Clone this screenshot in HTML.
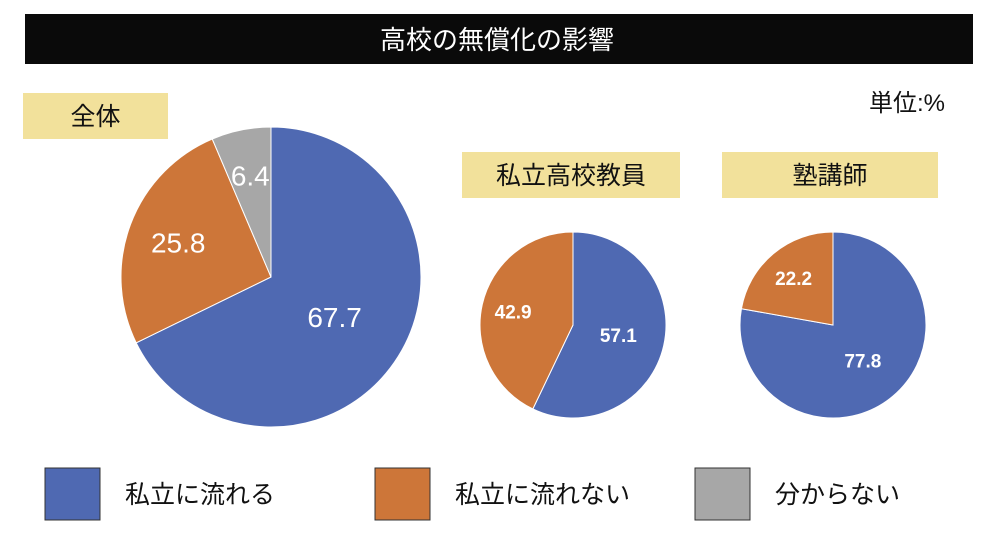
<!DOCTYPE html>
<html><head><meta charset="utf-8">
<style>
body{margin:0;background:#fff;width:999px;height:544px;overflow:hidden;font-family:"Liberation Sans","Noto Sans CJK JP",sans-serif;}
svg{display:block}
</style></head>
<body>
<svg id="c" width="999" height="544" viewBox="0 0 999 544">
  <rect x="25" y="14" width="948" height="50" fill="#0a0a0a"/>
  <text x="497" y="49" text-anchor="middle" fill="#fff" font-size="26" font-family="Liberation Sans, Noto Sans CJK JP, sans-serif">高校の無償化の影響</text>
  <text x="945" y="111" text-anchor="end" fill="#111" font-size="24" font-family="Liberation Sans, Noto Sans CJK JP, sans-serif">単位:%</text>
  <g id="pies"></g>
  <g id="legend"></g>
</svg>
<script>
const groupNames = ["全体", "私立高校教員", "塾講師"];
const seriesNames = ["私立に流れる", "私立に流れない", "分からない"];
const valuesAll = [67.7, 25.8, 6.4];
const valuesTeachers = [57.1, 42.9];
const valuesCram = [77.8, 22.2];
const colors = ["#4f69b2", "#cd7639", "#a7a7a7"];

const NS = "http://www.w3.org/2000/svg";
const pies = document.getElementById("pies");
const legend = document.getElementById("legend");
const FONT = "Liberation Sans, Noto Sans CJK JP, sans-serif";

function mk(tag, attrs, parent){
  const e = document.createElementNS(NS, tag);
  for (const k in attrs) e.setAttribute(k, attrs[k]);
  parent.appendChild(e);
  return e;
}
function pt(cx, cy, r, frac){
  const a = frac * 2 * Math.PI;
  return [cx + r * Math.sin(a), cy - r * Math.cos(a)];
}

const layouts = [
  {cx:271, cy:277, r:150, box:[23,93,145,46], fs:28, bold:false, values:valuesAll},
  {cx:573, cy:325, r:93, box:[462,152,218,46], fs:19, bold:true, values:valuesTeachers},
  {cx:833, cy:325, r:93, box:[722,152,216,46], fs:19, bold:true, values:valuesCram}
];

layouts.forEach((L, gi) => {
  const g = mk("g", {}, pies);
  
  
  const b = mk("rect", {x:L.box[0], y:L.box[1], width:L.box[2], height:L.box[3], fill:"#f2e19b"}, g);
  
  
  const t = mk("text", {x:L.box[0]+L.box[2]/2, y:L.box[1]+L.box[3]/2+9, "text-anchor":"middle", "font-size":25, fill:"#111", "font-family":FONT}, g);
  t.textContent = groupNames[gi];
  
  
  const total = L.values.reduce((a,b)=>a+b,0);
  let acc = 0;
  L.values.forEach((v, i) => {
    const f0 = acc/total, f1 = (acc+v)/total;
    const p0 = pt(L.cx, L.cy, L.r, f0), p1 = pt(L.cx, L.cy, L.r, f1);
    const large = (f1 - f0) > 0.5 ? 1 : 0;
    const p = mk("path", {d:`M${L.cx},${L.cy} L${p0[0]},${p0[1]} A${L.r},${L.r} 0 ${large} 1 ${p1[0]},${p1[1]} Z`, fill:colors[i], stroke:"#fff", "stroke-width":1}, g);
    
    
    const frac = (v/total) < 0.1 ? 0.69 : (v/total < 0.45 ? 0.66 : 0.5);
    const lp = pt(L.cx, L.cy, L.r*frac, (f0+f1)/2);
    const lt = mk("text", {x:lp[0], y:lp[1]+L.fs*0.36, "text-anchor":"middle", "font-size":L.fs, fill:"#fff", "font-family":FONT, "font-weight":L.bold?"bold":"normal"}, g);
    lt.textContent = v.toFixed(1);
    
    
    acc += v;
  });
});

const legX = [45, 375, 695];
seriesNames.forEach((n, i) => {
  const s = mk("rect", {x:legX[i], y:468, width:55, height:52, fill:colors[i], stroke:"#333", "stroke-width":1}, legend);
  
  
  const t = mk("text", {x:legX[i]+80, y:503, "font-size":25, fill:"#111", "font-family":FONT}, legend);
  t.textContent = n;
  
  
});
</script>
</body></html>
